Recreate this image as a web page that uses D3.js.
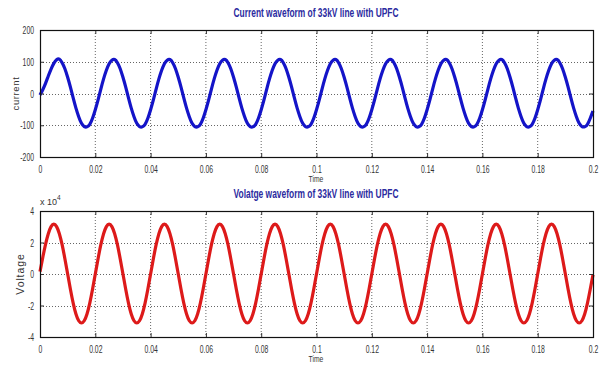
<!DOCTYPE html>
<html><head><meta charset="utf-8">
<script src="https://cdn.jsdelivr.net/npm/d3@7"></script>
<style>
body{margin:0;background:#fff;}
text{font-family:"Liberation Sans",Arial,sans-serif;}
</style></head>
<body>
<svg id="c" width="604" height="369"></svg>
<script>
// ---- data ----
const sampleStep = 0.001; // s between samples, t = 0 .. 0.2
const currentValues = [
 -5, 12, 32, 55, 77, 95, 106, 108, 97, 78, 51, 20, -14, -46, -73, -94, -104, -105, -97, -78,
 -51, -20, 14, 46, 73, 94, 105, 107, 97, 78, 51, 20, -14, -46, -73, -94, -104, -105, -97, -78,
 -51, -20, 14, 46, 73, 94, 105, 107, 97, 78, 51, 20, -14, -46, -73, -94, -104, -105, -97, -78,
 -51, -20, 14, 46, 73, 94, 105, 107, 97, 78, 51, 20, -14, -46, -73, -94, -104, -105, -97, -78,
 -51, -20, 14, 46, 73, 94, 105, 107, 97, 78, 51, 20, -14, -46, -73, -94, -104, -105, -97, -78,
 -51, -20, 14, 46, 73, 94, 105, 107, 97, 78, 51, 20, -14, -46, -73, -94, -104, -105, -97, -78,
 -51, -20, 14, 46, 73, 94, 105, 107, 97, 78, 51, 20, -14, -46, -73, -94, -104, -105, -97, -78,
 -51, -20, 14, 46, 73, 94, 105, 107, 97, 78, 51, 20, -14, -46, -73, -94, -104, -105, -97, -78,
 -51, -20, 14, 46, 73, 94, 105, 107, 97, 78, 51, 20, -14, -46, -73, -94, -104, -105, -97, -78,
 -51, -20, 14, 46, 73, 94, 105, 107, 97, 78, 51, 20, -14, -46, -73, -94, -104, -105, -97, -78,
 -55
];
const voltageValues = [
 1500, 10500, 18800, 25600, 30100, 31700, 30100, 25600, 18600, 9700, 0, -9700, -18500, -25400, -29700, -31100, -29700, -25400, -18500, -9700,
 0, 9700, 18600, 25600, 30100, 31700, 30100, 25600, 18600, 9700, 0, -9700, -18500, -25400, -29700, -31100, -29700, -25400, -18500, -9700,
 0, 9700, 18600, 25600, 30100, 31700, 30100, 25600, 18600, 9700, 0, -9700, -18500, -25400, -29700, -31100, -29700, -25400, -18500, -9700,
 0, 9700, 18600, 25600, 30100, 31700, 30100, 25600, 18600, 9700, 0, -9700, -18500, -25400, -29700, -31100, -29700, -25400, -18500, -9700,
 0, 9700, 18600, 25600, 30100, 31700, 30100, 25600, 18600, 9700, 0, -9700, -18500, -25400, -29700, -31100, -29700, -25400, -18500, -9700,
 0, 9700, 18600, 25600, 30100, 31700, 30100, 25600, 18600, 9700, 0, -9700, -18500, -25400, -29700, -31100, -29700, -25400, -18500, -9700,
 0, 9700, 18600, 25600, 30100, 31700, 30100, 25600, 18600, 9700, 0, -9700, -18500, -25400, -29700, -31100, -29700, -25400, -18500, -9700,
 0, 9700, 18600, 25600, 30100, 31700, 30100, 25600, 18600, 9700, 0, -9700, -18500, -25400, -29700, -31100, -29700, -25400, -18500, -9700,
 0, 9700, 18600, 25600, 30100, 31700, 30100, 25600, 18600, 9700, 0, -9700, -18500, -25400, -29700, -31100, -29700, -25400, -18500, -9700,
 0, 9700, 18600, 25600, 30100, 31700, 30100, 25600, 18600, 9700, 0, -9700, -18500, -25400, -29700, -31100, -29700, -25400, -18500, -9700,
 -500
];
const xTicks = [0, 0.02, 0.04, 0.06, 0.08, 0.1, 0.12, 0.14, 0.16, 0.18, 0.2];
const xTickLabels = ["0","0.02","0.04","0.06","0.08","0.1","0.12","0.14","0.16","0.18","0.2"];
const currentTicks = [-200, -100, 0, 100, 200];
const voltageTicks = [-40000, -20000, 0, 20000, 40000];
const voltageTickLabels = ["-4","-2","0","2","4"];

const svg = d3.select("#c");
const L = 40, R = 593;
const x = d3.scaleLinear().domain([0, 0.2]).range([L, R]);

// squeeze text horizontally (the reference uses a narrow face)
function narrow(sel, f) {
  sel.each(function () {
    const len = this.getComputedTextLength();
    if (len > 0) d3.select(this).attr("textLength", len * f).attr("lengthAdjust", "spacingAndGlyphs");
  });
}

function panel(o){
  const y = d3.scaleLinear().domain(o.domain).range([o.bottom, o.top]);
  const g = svg.append("g");
  // grid
  g.selectAll(".gx").data(xTicks.slice(1, -1)).join("line")
    .attr("x1", d => x(d)).attr("x2", d => x(d)).attr("y1", o.top).attr("y2", o.bottom)
    .attr("stroke", "#666").attr("stroke-width", 1).attr("stroke-dasharray", "1,2");
  g.selectAll(".gy").data(o.ticks.slice(1, -1)).join("line")
    .attr("y1", d => Math.round(y(d)) + 0.5).attr("y2", d => Math.round(y(d)) + 0.5).attr("x1", L).attr("x2", R)
    .attr("stroke", "#666").attr("stroke-width", 1).attr("stroke-dasharray", "1,2");
  // line
  const data = o.values.map((v, i) => [i * sampleStep, v]);
  g.append("path").datum(data)
    .attr("d", d3.line().x(d => x(d[0])).y(d => y(d[1])).curve(d3.curveNatural))
    .attr("fill", "none").attr("stroke", o.color).attr("stroke-width", 3.2).attr("stroke-linejoin", "round");
  // axes (ticks inside)
  const ax = d3.axisBottom(x).tickValues(xTicks).tickFormat((d, i) => xTickLabels[i]).tickSize(-4).tickPadding(8);
  const axg = g.append("g").attr("transform", `translate(0,${o.bottom})`).call(ax);
  const axt = g.append("g").attr("transform", `translate(0,${o.top})`).call(d3.axisTop(x).tickValues(xTicks).tickSize(-4).tickFormat(""));
  const ay = d3.axisLeft(y).tickValues(o.ticks).tickFormat((d, i) => o.tickLabels[i]).tickSize(-4).tickPadding(6);
  const ayg = g.append("g").attr("transform", `translate(${L},0)`).call(ay);
  const ayr = g.append("g").attr("transform", `translate(${R},0)`).call(d3.axisRight(y).tickValues(o.ticks).tickSize(-4).tickFormat(""));
  [axg, axt, ayg, ayr].forEach(a => {
    a.select(".domain").remove();
    a.selectAll("line").attr("stroke", "#333");
    a.selectAll("text").attr("fill", "#333").attr("font-size", 11).style("font-family", '"Liberation Sans",Arial,sans-serif');
    narrow(a.selectAll("text"), 0.62);
  });
  // box
  g.append("rect").attr("x", L + 0.5).attr("y", o.top + 0.5).attr("width", R - L).attr("height", o.bottom - o.top)
    .attr("fill", "none").attr("stroke", "#111").attr("stroke-width", 1.2);
  // titles and labels
  svg.append("text").attr("x", 316).attr("y", o.titleY).attr("text-anchor", "middle")
    .attr("font-size", 12).attr("font-weight", "bold").attr("fill", "#2b2ba0")
    .attr("textLength", 165).attr("lengthAdjust", "spacingAndGlyphs").text(o.title);
  const tl = svg.append("text").attr("x", 316).attr("y", o.bottom + 25).attr("text-anchor", "middle")
    .attr("font-size", 9).attr("fill", "#333").text("Time");
  narrow(tl, 0.75);
  svg.append("text").attr("transform", `translate(${o.ylabX},${(o.top + o.bottom) / 2}) rotate(-90)`)
    .attr("text-anchor", "middle").attr("font-size", o.ylabSize).attr("fill", "#333")
    .attr("letter-spacing", o.ylabSpacing).text(o.ylabel);
  return y;
}

panel({domain: [-200, 200], top: 30, bottom: 157, values: currentValues, ticks: currentTicks,
  tickLabels: currentTicks.map(String), color: "#1414c8", title: "Current waveform of 33kV line with UPFC",
  titleY: 17, ylabel: "current", ylabX: 19, ylabSize: 9.5, ylabSpacing: 0.6});
panel({domain: [-40000, 40000], top: 211, bottom: 337, values: voltageValues, ticks: voltageTicks,
  tickLabels: voltageTickLabels, color: "#dd1a1a", title: "Volatge waveform of 33kV line with UPFC",
  titleY: 198, ylabel: "Voltage", ylabX: 24, ylabSize: 10.5, ylabSpacing: 0.9});

// exponent label
const ex = svg.append("text").attr("x", 40).attr("y", 205).attr("font-size", 9).attr("fill", "#333");
ex.append("tspan").text("x 10");
ex.append("tspan").attr("dy", -5).attr("font-size", 6.5).text("4");
</script>
</body></html>
